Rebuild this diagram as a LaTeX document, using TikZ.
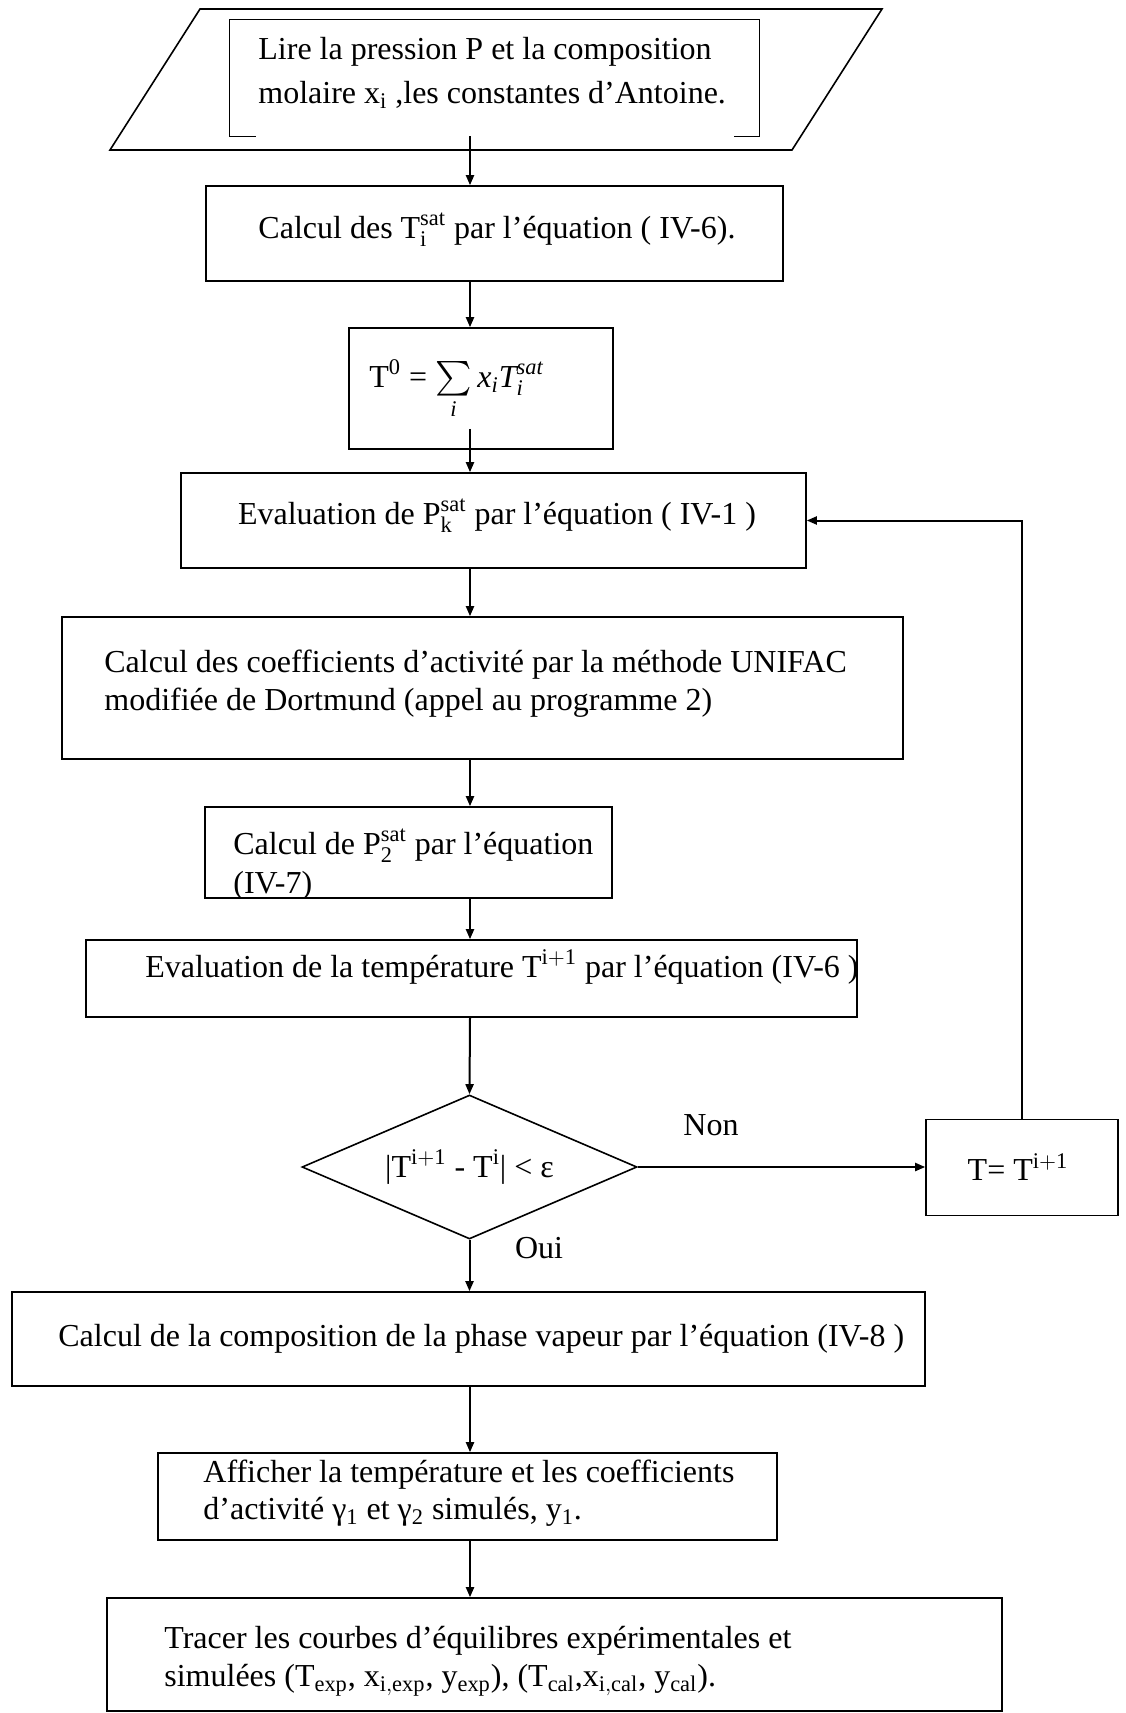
\documentclass[tikz,border=0pt]{standalone}
\usepackage{exscale}
\usepackage{fontspec}
\setmainfont{Liberation Serif}
\usetikzlibrary{shapes.geometric,arrows.meta,calc}
\begin{document}
\begin{tikzpicture}[x=0.5pt,y=-0.5pt,
  box/.style={draw,line width=0.8pt,rectangle,inner sep=0pt},
  txt/.style={font=\fontsize{16}{19}\selectfont,inner sep=0pt,align=left},
  lbl/.style={font=\fontsize{16}{19}\selectfont,inner sep=0pt},
  arr/.style={line width=1pt,-{Triangle[length=5pt,width=4pt]}}]
\useasboundingbox (0,0) rectangle (1125,1713);
\coordinate (ax) at (470,0);

% input parallelogram with its inner frame
\draw[line width=0.8pt] (200,9) -- (882,9) -- (792,150) -- (110,150) -- cycle;
\node[inner sep=0pt,minimum width=264.5pt,minimum height=58pt] (in) at (494.5,78) {};
\draw[line width=0.8pt] ($(in.south west)+(26,0)$) -- (in.south west) -- (in.north west)
  -- (in.north east) -- (in.south east) -- ++(-25,0);
\node[txt,font=\fontsize{16}{22}\selectfont,anchor=west] at (258,73)
  {Lire la pression P et la composition\\molaire x$_{\mathrm{i}}$ ,les constantes d’Antoine.};

% processing steps
\node[box,minimum width=288.5pt,minimum height=47.5pt] (b2) at (494.5,233.5) {};
\node[lbl] at (497,230) {Calcul des T$_{\mathrm{i}}^{\mathrm{sat}}$ par l’équation ( IV-6).};

\node[box,minimum width=132pt,minimum height=60.5pt] (b3) at (481,388.5) {};
\node[lbl,anchor=base west] at (369,387)
  {T$^{\mathrm{0}}$ = $\textstyle\sum\limits_{\mathit{i}}\mathit{x}_{\mathit{i}}\mathit{T}_{\mathit{i}}^{\mathit{sat}}$};

\node[box,minimum width=312.5pt,minimum height=47.5pt] (b4) at (493.5,520.5) {};
\node[lbl] at (497,516) {Evaluation de P$_{\mathrm{k}}^{\mathrm{sat}}$ par l’équation ( IV-1 )};

\node[box,minimum width=420.5pt,minimum height=71pt] (b5) at (482.5,688) {};
\node[txt,anchor=west] at (104,684)
  {Calcul des coefficients d’activité par la méthode UNIFAC\\modifiée de Dortmund (appel au programme 2)};

\node[box,minimum width=203.5pt,minimum height=45.5pt] (b6) at (408.5,852.5) {};
\begin{scope}
  \clip (b6.north west) rectangle (b6.south east);
  \node[txt,font=\fontsize{16}{19.5}\selectfont,anchor=west] at (233,864.5)
    {Calcul de P$_{\mathrm{2}}^{\mathrm{sat}}$ par l’équation\\(IV-7)};
\end{scope}

\node[box,minimum width=385.5pt,minimum height=38.5pt] (b7) at (471.5,978.5) {};
\node[lbl,anchor=west] at (145,967)
  {Evaluation de la température T$^{\mathrm{i+1}}$ par l’équation (IV-6 )};

% convergence test
\node[diamond,draw,line width=0.8pt,inner sep=0pt,aspect=2.3,
  minimum width=167.5pt,minimum height=72pt,font=\fontsize{16}{19}\selectfont] (dia) at (469.5,1167)
  {|T$^{\mathrm{i+1}}$ - T$^{\mathrm{i}}$| < ε};

\node[box,minimum width=96pt,minimum height=48pt] (bT) at (1022,1167.5) {};
\node[lbl] at (1018,1167) {T= T$^{\mathrm{i+1}}$};

\node[lbl] at (711,1125) {Non};
\node[lbl] at (539,1248) {Oui};

% output steps
\node[box,minimum width=456.5pt,minimum height=47pt] (b8) at (468.5,1339) {};
\node[lbl,anchor=west] at (58,1339)
  {Calcul de la composition de la phase vapeur par l’équation (IV-8 )};

\node[box,minimum width=309.5pt,minimum height=43.5pt] (b9) at (467.5,1496.5) {};
\node[txt,font=\fontsize{16}{18.5}\selectfont,anchor=west] at (203,1493)
  {Afficher la température et les coefficients\\d’activité γ$_{\mathrm{1}}$ et γ$_{\mathrm{2}}$ simulés, y$_{\mathrm{1}}$.};

\node[box,minimum width=447.5pt,minimum height=56.5pt] (b10) at (554.5,1654.5) {};
\node[txt,anchor=west] at (164,1661)
  {Tracer les courbes d’équilibres expérimentales et\\simulées (T$_{\mathrm{exp}}$, x$_{\mathrm{i,exp}}$, y$_{\mathrm{exp}}$), (T$_{\mathrm{cal}}$,x$_{\mathrm{i,cal}}$, y$_{\mathrm{cal}}$).};

% connectors
\draw[arr] (in.south -| ax) -- (b2.north -| ax);
\draw[arr] (b2.south -| ax) -- (b3.north -| ax);
\draw[arr] ($(b3.south -| ax)+(0,-21)$) -- (b4.north -| ax);
\draw[arr] (b4.south -| ax) -- (b5.north -| ax);
\draw[arr] (b5.south -| ax) -- (b6.north -| ax);
\draw[arr] (b6.south -| ax) -- (b7.north -| ax);
\draw[arr] (b7.south -| ax) -- (dia.north);
\draw[arr] (dia.east) -- (dia.east -| bT.west);
\draw[arr] (bT.north) |- (b4.east);
\draw[arr] (dia.south) -- (b8.north -| dia.south);
\draw[arr] (b8.south -| ax) -- (b9.north -| ax);
\draw[arr] (b9.south -| ax) -- (b10.north -| ax);
\end{tikzpicture}
\end{document}
